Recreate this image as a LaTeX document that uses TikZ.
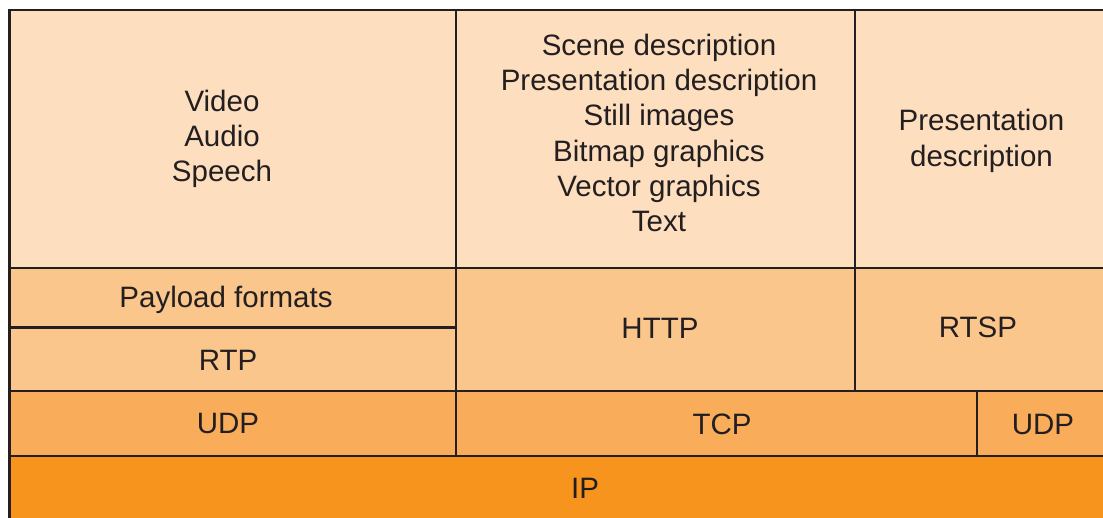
\documentclass[tikz,border=0pt]{standalone}
\usepackage{fontspec}
\setmainfont{Liberation Sans}
\definecolor{tierA}{HTML}{FDDEBE}
\definecolor{tierB}{HTML}{FBC68B}
\definecolor{tierC}{HTML}{F9AD5A}
\definecolor{tierD}{HTML}{F7941E}
\definecolor{ink}{HTML}{231F20}
\begin{document}
\begin{tikzpicture}[x=1pt,y=-1pt,
  lbl/.style={text=ink,align=center,inner sep=0pt,font=\fontsize{29.5}{35.3}\selectfont},
  rule/.style={draw=ink,line width=2.2pt}]
\useasboundingbox (0,0) rectangle (1103,517);
\clip (0,0) rectangle (1103,517);
% fills
\fill[tierA] (9.5,10) rectangle (1110,268);
\fill[tierB] (9.5,268) rectangle (1110,391);
\fill[tierC] (9.5,391) rectangle (1110,456);
\fill[tierD] (9.5,456) rectangle (1110,530);
% coordinates
\coordinate (tl) at (9.5,10);
\coordinate (tr) at (1110,10);
\coordinate (bl) at (9.5,530);
% rules
\draw[rule] (bl) -- (tl) -- (tr);
\draw[rule] (9.5,268) -- (1110,268);
\draw[rule] (9.5,327.5) -- (456,327.5);
\draw[rule] (9.5,391) -- (1110,391);
\draw[rule] (9.5,456) -- (1110,456);
\draw[rule] (456,10) -- (456,456);
\draw[rule] (855,10) -- (855,391);
\draw[rule] (977,391) -- (977,456);
% labels
\node[lbl] (media) at (222,139) {Video\\Audio\\Speech};
\node[lbl] (scene) at (659,133) {Scene description\\Presentation description\\Still images\\Bitmap graphics\\Vector graphics\\Text};
\node[lbl] (pres) at (981.5,141) {Presentation\\description};
\node[lbl] (payload) at (226,300) {Payload formats};
\node[lbl] (rtp) at (228,360) {RTP};
\node[lbl] (http) at (660,328) {HTTP};
\node[lbl] (rtsp) at (978,327) {RTSP};
\node[lbl] (udpa) at (228,423) {UDP};
\node[lbl] (tcp) at (722,424) {TCP};
\node[lbl] (udpb) at (1043,424) {UDP};
\node[lbl] (ip) at (585,488) {IP};
\end{tikzpicture}
\end{document}
